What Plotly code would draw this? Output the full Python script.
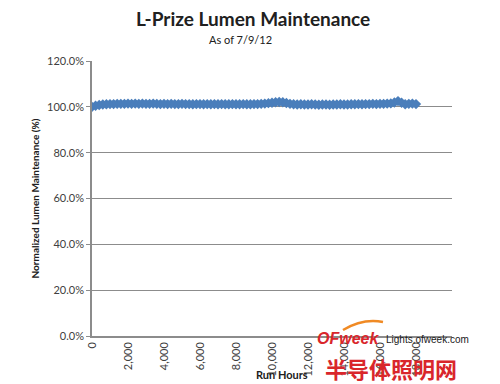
import plotly.graph_objects as go

hours = [0, 200, 400, 600, 800, 1000, 1200, 1400, 1600, 1800,
         2000, 2200, 2400, 2600, 2800, 3000, 3200, 3400, 3600, 3800,
         4000, 4200, 4400, 4600, 4800, 5000, 5200, 5400, 5600, 5800,
         6000, 6200, 6400, 6600, 6800, 7000, 7200, 7400, 7600, 7800,
         8000, 8200, 8400, 8600, 8800, 9000, 9200, 9400, 9600, 9800,
         10000, 10200, 10400, 10600, 10800, 11000, 11200, 11400, 11600, 11800,
         12000, 12200, 12400, 12600, 12800, 13000, 13200, 13400, 13600, 13800,
         14000, 14200, 14400, 14600, 14800, 15000, 15200, 15400, 15600, 15800,
         16000, 16200, 16400, 16600, 16800, 17000, 17200, 17400, 17600, 17800,
         18000]

maintenance_pct = [100.0, 100.5, 100.8, 101.0, 101.1, 101.2, 101.2, 101.3, 101.3, 101.3,
                   101.4, 101.3, 101.4, 101.3, 101.4, 101.3, 101.3, 101.4, 101.3, 101.2,
                   101.3, 101.2, 101.3, 101.2, 101.2, 101.3, 101.2, 101.2, 101.1, 101.2,
                   101.2, 101.1, 101.2, 101.1, 101.2, 101.1, 101.2, 101.1, 101.1, 101.2,
                   101.1, 101.1, 101.2, 101.1, 101.1, 101.2, 101.2, 101.3, 101.4, 101.6,
                   101.8, 102.0, 102.1, 102.0, 101.7, 101.3, 101.1, 101.0, 101.1, 101.0,
                   101.0, 101.1, 101.0, 100.9, 101.0, 101.0, 100.9, 101.0, 101.0, 101.1,
                   101.0, 101.0, 101.1, 101.1, 101.2, 101.1, 101.2, 101.2, 101.3, 101.2,
                   101.3, 101.3, 101.4, 101.5, 101.9, 102.5, 101.8, 101.1, 101.3, 101.4,
                   101.2]

x_ticks = [0, 2000, 4000, 6000, 8000, 10000, 12000, 14000, 16000, 18000, 20000]
y_ticks = [0.0, 0.2, 0.4, 0.6, 0.8, 1.0, 1.2]

title_text = "L-Prize Lumen Maintenance"
subtitle_text = "As of 7/9/12"
x_title = "Run Hours"
y_title = "Normalized Lumen Maintenance (%)"

FONT = "Lato"
blue = "#4A7EBB"
grid = "#8C8C8C"

L, R, T, B = 92, 452, 61, 336
def px(x):
    return (x - L) / (R - L)
def py(y):
    return (B - y) / (B - T)

fig = go.Figure()
fig.add_trace(go.Scatter(
    x=hours, y=[v / 100 for v in maintenance_pct],
    mode="lines+markers",
    line=dict(color=blue, width=2.5),
    marker=dict(symbol="diamond", size=8, color=blue, line=dict(width=0)),
    showlegend=False, hoverinfo="skip",
))

fig.update_layout(
    width=500, height=384,
    margin=dict(l=L, r=500 - R, t=T, b=384 - B, autoexpand=False),
    paper_bgcolor="white", plot_bgcolor="white",
    font=dict(family=FONT, color="#404040", size=11),
    showlegend=False,
)

fig.update_xaxes(
    range=[0, 20000], tickvals=x_ticks[:-1], tickformat=",d", tickangle=-90,
    showgrid=False, showline=True, linecolor=grid, linewidth=1.5,
    ticks="", zeroline=False, automargin=False,
    tickfont=dict(family=FONT, size=11, color="#404040"),
)
fig.update_yaxes(
    range=[0, 1.2], tickvals=y_ticks, tickformat=".1%",
    showgrid=True, gridcolor=grid, gridwidth=1,
    showline=True, linecolor=grid, linewidth=1.5,
    ticks="outside", ticklen=4, tickcolor=grid,
    zeroline=False, automargin=False,
    tickfont=dict(family=FONT, size=11, color="#404040"),
    title=dict(text=f"<b>{y_title}</b>", font=dict(family=FONT, size=10, color="#202020"), standoff=6),
)

fig.add_annotation(text=f"<b>{title_text}</b>", xref="paper", yref="paper",
                   x=px(253), y=py(18), showarrow=False,
                   font=dict(family=FONT, size=19, color="#202020"), xanchor="center", yanchor="middle")
fig.add_annotation(text=subtitle_text, xref="paper", yref="paper",
                   x=px(240), y=py(40), showarrow=False,
                   font=dict(family=FONT, size=11, color="#202020"), xanchor="center", yanchor="middle")
fig.add_annotation(text=f"<b>{x_title}</b>", xref="paper", yref="paper",
                   x=px(282), y=py(374), showarrow=False,
                   font=dict(family=FONT, size=11, color="#202020"), xanchor="center", yanchor="middle")

# watermark
fig.add_shape(type="path", xref="paper", yref="paper",
              path="M %f,%f Q %f,%f %f,%f" % (px(343), py(330), px(363), py(318), px(383), py(322)),
              line=dict(color="#F08A24", width=2.5))
fig.add_annotation(text="<b><i>OFweek</i></b>", xref="paper", yref="paper",
                   x=px(381), y=py(338), showarrow=False,
                   font=dict(family="Liberation Sans", size=16, color="#D9262B"),
                   xanchor="right", yanchor="middle")
fig.add_annotation(text="Lights.ofweek.com", xref="paper", yref="paper",
                   x=px(384), y=py(339), showarrow=False,
                   font=dict(family="Liberation Sans", size=10, color="#202020"),
                   xanchor="left", yanchor="middle")
fig.add_annotation(text="<b>半导体照明网</b>", xref="paper", yref="paper",
                   x=px(391), y=py(368), showarrow=False,
                   font=dict(family="Noto Sans CJK SC", size=22, color="#D9262B"),
                   xanchor="center", yanchor="middle")

fig.write_html("out.html")
